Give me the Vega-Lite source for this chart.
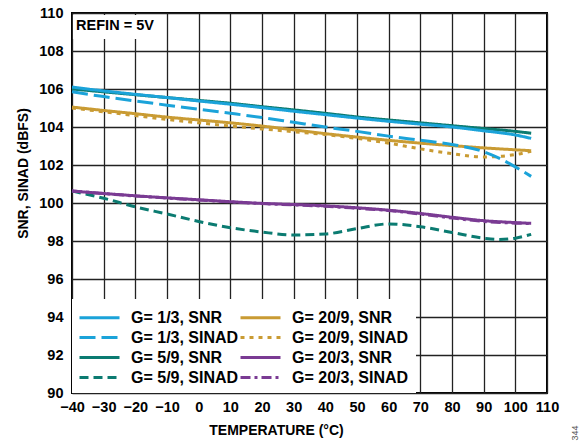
{
  "$schema": "https://vega.github.io/schema/vega-lite/v6.json",
  "width": 475,
  "height": 380,
  "autosize": {"type": "none"},
  "padding": {"left": 72, "top": 13, "right": 40, "bottom": 55},
  "background": "white",
  "config": {
    "view": {"stroke": "#000000", "strokeWidth": 2},
    "font": "Liberation Sans",
    "axis": {
      "labelFont": "Liberation Sans", "labelFontWeight": "bold", "labelFontSize": 14.5, "labelColor": "#000",
      "titleFont": "Liberation Sans", "titleFontWeight": "bold", "titleFontSize": 14, "titleColor": "#000",
      "gridColor": "#222", "gridWidth": 1.3, "gridOpacity": 1, "domain": false, "ticks": false,
      "labelOverlap": false
    }
  },
  "data": {
    "values": [
      {"series": "G= 5/9, SINAD", "t": -40, "v": 100.63}, {"series": "G= 5/9, SINAD", "t": -30, "v": 100.25}, {"series": "G= 5/9, SINAD", "t": -20, "v": 99.8}, {"series": "G= 5/9, SINAD", "t": -10, "v": 99.42}, {"series": "G= 5/9, SINAD", "t": 0, "v": 99.03}, {"series": "G= 5/9, SINAD", "t": 10, "v": 98.7}, {"series": "G= 5/9, SINAD", "t": 20, "v": 98.47}, {"series": "G= 5/9, SINAD", "t": 30, "v": 98.32}, {"series": "G= 5/9, SINAD", "t": 40, "v": 98.37}, {"series": "G= 5/9, SINAD", "t": 50, "v": 98.65}, {"series": "G= 5/9, SINAD", "t": 60, "v": 98.9}, {"series": "G= 5/9, SINAD", "t": 70, "v": 98.75}, {"series": "G= 5/9, SINAD", "t": 80, "v": 98.45}, {"series": "G= 5/9, SINAD", "t": 90, "v": 98.15}, {"series": "G= 5/9, SINAD", "t": 95, "v": 98.08}, {"series": "G= 5/9, SINAD", "t": 100, "v": 98.15}, {"series": "G= 5/9, SINAD", "t": 105, "v": 98.35},

      {"series": "G= 20/3, SNR", "t": -40, "v": 100.63}, {"series": "G= 20/3, SNR", "t": -30, "v": 100.5}, {"series": "G= 20/3, SNR", "t": -20, "v": 100.38}, {"series": "G= 20/3, SNR", "t": -10, "v": 100.27}, {"series": "G= 20/3, SNR", "t": 0, "v": 100.17}, {"series": "G= 20/3, SNR", "t": 10, "v": 100.07}, {"series": "G= 20/3, SNR", "t": 20, "v": 99.98}, {"series": "G= 20/3, SNR", "t": 30, "v": 99.92}, {"series": "G= 20/3, SNR", "t": 40, "v": 99.85}, {"series": "G= 20/3, SNR", "t": 50, "v": 99.75}, {"series": "G= 20/3, SNR", "t": 60, "v": 99.62}, {"series": "G= 20/3, SNR", "t": 70, "v": 99.45}, {"series": "G= 20/3, SNR", "t": 80, "v": 99.25}, {"series": "G= 20/3, SNR", "t": 90, "v": 99.07}, {"series": "G= 20/3, SNR", "t": 100, "v": 98.97}, {"series": "G= 20/3, SNR", "t": 105, "v": 98.93},

      {"series": "G= 20/3, SINAD", "t": -40, "v": 100.63}, {"series": "G= 20/3, SINAD", "t": -30, "v": 100.5}, {"series": "G= 20/3, SINAD", "t": -20, "v": 100.37}, {"series": "G= 20/3, SINAD", "t": -10, "v": 100.26}, {"series": "G= 20/3, SINAD", "t": 0, "v": 100.16}, {"series": "G= 20/3, SINAD", "t": 10, "v": 100.06}, {"series": "G= 20/3, SINAD", "t": 20, "v": 99.97}, {"series": "G= 20/3, SINAD", "t": 30, "v": 99.9}, {"series": "G= 20/3, SINAD", "t": 40, "v": 99.83}, {"series": "G= 20/3, SINAD", "t": 50, "v": 99.72}, {"series": "G= 20/3, SINAD", "t": 60, "v": 99.6}, {"series": "G= 20/3, SINAD", "t": 70, "v": 99.42}, {"series": "G= 20/3, SINAD", "t": 80, "v": 99.21}, {"series": "G= 20/3, SINAD", "t": 90, "v": 99.03}, {"series": "G= 20/3, SINAD", "t": 100, "v": 98.94}, {"series": "G= 20/3, SINAD", "t": 105, "v": 98.92},

      {"series": "G= 20/9, SINAD", "t": -40, "v": 105.0}, {"series": "G= 20/9, SINAD", "t": -30, "v": 104.8}, {"series": "G= 20/9, SINAD", "t": -20, "v": 104.6}, {"series": "G= 20/9, SINAD", "t": -10, "v": 104.4}, {"series": "G= 20/9, SINAD", "t": 0, "v": 104.22}, {"series": "G= 20/9, SINAD", "t": 10, "v": 104.05}, {"series": "G= 20/9, SINAD", "t": 20, "v": 103.9}, {"series": "G= 20/9, SINAD", "t": 30, "v": 103.75}, {"series": "G= 20/9, SINAD", "t": 40, "v": 103.6}, {"series": "G= 20/9, SINAD", "t": 50, "v": 103.4}, {"series": "G= 20/9, SINAD", "t": 60, "v": 103.15}, {"series": "G= 20/9, SINAD", "t": 70, "v": 102.85}, {"series": "G= 20/9, SINAD", "t": 80, "v": 102.6}, {"series": "G= 20/9, SINAD", "t": 90, "v": 102.42}, {"series": "G= 20/9, SINAD", "t": 100, "v": 102.55}, {"series": "G= 20/9, SINAD", "t": 105, "v": 102.72},

      {"series": "G= 20/9, SNR", "t": -40, "v": 105.05}, {"series": "G= 20/9, SNR", "t": -30, "v": 104.87}, {"series": "G= 20/9, SNR", "t": -20, "v": 104.7}, {"series": "G= 20/9, SNR", "t": -10, "v": 104.52}, {"series": "G= 20/9, SNR", "t": 0, "v": 104.37}, {"series": "G= 20/9, SNR", "t": 10, "v": 104.22}, {"series": "G= 20/9, SNR", "t": 20, "v": 104.05}, {"series": "G= 20/9, SNR", "t": 30, "v": 103.85}, {"series": "G= 20/9, SNR", "t": 40, "v": 103.65}, {"series": "G= 20/9, SNR", "t": 50, "v": 103.47}, {"series": "G= 20/9, SNR", "t": 60, "v": 103.3}, {"series": "G= 20/9, SNR", "t": 70, "v": 103.15}, {"series": "G= 20/9, SNR", "t": 80, "v": 103.02}, {"series": "G= 20/9, SNR", "t": 90, "v": 102.9}, {"series": "G= 20/9, SNR", "t": 100, "v": 102.8}, {"series": "G= 20/9, SNR", "t": 105, "v": 102.75},

      {"series": "G= 5/9, SNR", "t": -40, "v": 106.0}, {"series": "G= 5/9, SNR", "t": -30, "v": 105.85}, {"series": "G= 5/9, SNR", "t": -20, "v": 105.7}, {"series": "G= 5/9, SNR", "t": -10, "v": 105.55}, {"series": "G= 5/9, SNR", "t": 0, "v": 105.4}, {"series": "G= 5/9, SNR", "t": 10, "v": 105.25}, {"series": "G= 5/9, SNR", "t": 20, "v": 105.07}, {"series": "G= 5/9, SNR", "t": 30, "v": 104.9}, {"series": "G= 5/9, SNR", "t": 40, "v": 104.72}, {"series": "G= 5/9, SNR", "t": 50, "v": 104.53}, {"series": "G= 5/9, SNR", "t": 60, "v": 104.37}, {"series": "G= 5/9, SNR", "t": 70, "v": 104.22}, {"series": "G= 5/9, SNR", "t": 80, "v": 104.07}, {"series": "G= 5/9, SNR", "t": 90, "v": 103.92}, {"series": "G= 5/9, SNR", "t": 100, "v": 103.77}, {"series": "G= 5/9, SNR", "t": 105, "v": 103.67},

      {"series": "G= 1/3, SINAD", "t": -40, "v": 105.85}, {"series": "G= 1/3, SINAD", "t": -30, "v": 105.6}, {"series": "G= 1/3, SINAD", "t": -20, "v": 105.37}, {"series": "G= 1/3, SINAD", "t": -10, "v": 105.15}, {"series": "G= 1/3, SINAD", "t": 0, "v": 104.93}, {"series": "G= 1/3, SINAD", "t": 10, "v": 104.72}, {"series": "G= 1/3, SINAD", "t": 20, "v": 104.5}, {"series": "G= 1/3, SINAD", "t": 30, "v": 104.25}, {"series": "G= 1/3, SINAD", "t": 40, "v": 104.0}, {"series": "G= 1/3, SINAD", "t": 50, "v": 103.77}, {"series": "G= 1/3, SINAD", "t": 60, "v": 103.52}, {"series": "G= 1/3, SINAD", "t": 70, "v": 103.3}, {"series": "G= 1/3, SINAD", "t": 80, "v": 103.08}, {"series": "G= 1/3, SINAD", "t": 90, "v": 102.7}, {"series": "G= 1/3, SINAD", "t": 95, "v": 102.35}, {"series": "G= 1/3, SINAD", "t": 100, "v": 101.9}, {"series": "G= 1/3, SINAD", "t": 105, "v": 101.4},

      {"series": "G= 1/3, SNR", "t": -40, "v": 106.1}, {"series": "G= 1/3, SNR", "t": -30, "v": 105.9}, {"series": "G= 1/3, SNR", "t": -20, "v": 105.72}, {"series": "G= 1/3, SNR", "t": -10, "v": 105.55}, {"series": "G= 1/3, SNR", "t": 0, "v": 105.37}, {"series": "G= 1/3, SNR", "t": 10, "v": 105.2}, {"series": "G= 1/3, SNR", "t": 20, "v": 105.02}, {"series": "G= 1/3, SNR", "t": 30, "v": 104.83}, {"series": "G= 1/3, SNR", "t": 40, "v": 104.65}, {"series": "G= 1/3, SNR", "t": 50, "v": 104.47}, {"series": "G= 1/3, SNR", "t": 60, "v": 104.3}, {"series": "G= 1/3, SNR", "t": 70, "v": 104.15}, {"series": "G= 1/3, SNR", "t": 80, "v": 104.0}, {"series": "G= 1/3, SNR", "t": 90, "v": 103.8}, {"series": "G= 1/3, SNR", "t": 100, "v": 103.58}, {"series": "G= 1/3, SNR", "t": 105, "v": 103.4}
    ]
  },
  "layer": [
    {
      "mark": {"type": "line", "strokeWidth": 3, "interpolate": "monotone"},
      "encoding": {
        "x": {
          "field": "t", "type": "quantitative",
          "scale": {"domain": [-40, 110], "nice": false},
          "axis": {"values": [-40, -30, -20, -10, 0, 10, 20, 30, 40, 50, 60, 70, 80, 90, 100, 110], "tickCount": 30, "format": "d", "labelExpr": "replace(datum.label, '-', '\u2013')", "labelPadding": 7, "title": "TEMPERATURE (°C)", "titlePadding": 10, "titleX": 204, "labelFlush": false}
        },
        "y": {
          "field": "v", "type": "quantitative",
          "scale": {"domain": [90, 110], "nice": false, "zero": false},
          "axis": {"values": [90, 92, 94, 96, 98, 100, 102, 104, 106, 108, 110], "tickCount": 30, "format": "d", "labelPadding": 9, "title": "SNR, SINAD (dBFS)", "titlePadding": 8, "titleY": 160}
        },
        "color": {
          "field": "series", "type": "nominal",
          "scale": {
            "domain": ["G= 1/3, SNR", "G= 1/3, SINAD", "G= 5/9, SNR", "G= 5/9, SINAD", "G= 20/9, SNR", "G= 20/9, SINAD", "G= 20/3, SNR", "G= 20/3, SINAD"],
            "range": ["#1BA3D9", "#1BA3D9", "#0B7B71", "#0B7B71", "#C99B33", "#C99B33", "#7A3B93", "#7A3B93"]
          },
          "legend": {
            "title": null, "orient": "bottom-left", "offset": 0, "columns": 2, "padding": 7,
            "fillColor": "white", "symbolType": "M-2,0H2", "symbolSize": 400, "symbolStrokeWidth": 3, "symbolOffset": 9,
            "labelFont": "Liberation Sans", "labelFontWeight": "bold", "labelFontSize": 16, "labelColor": "#000",
            "labelOffset": 20, "rowPadding": 0, "columnPadding": -5, "labelLimit": 200
          }
        },
        "strokeDash": {
          "field": "series", "type": "nominal",
          "scale": {
            "domain": ["G= 1/3, SNR", "G= 1/3, SINAD", "G= 5/9, SNR", "G= 5/9, SINAD", "G= 20/9, SNR", "G= 20/9, SINAD", "G= 20/3, SNR", "G= 20/3, SINAD"],
            "range": [[1, 0], [16, 6], [1, 0], [9, 5], [1, 0], [4, 5], [1, 0], [10, 4, 3, 4]]
          }
        }
      }
    },
    {
      "data": {"values": [{}]},
      "mark": {"type": "rect", "fill": "white", "stroke": null},
      "encoding": {
        "x": {"datum": -39.7},
        "x2": {"datum": -11.5},
        "y": {"datum": 108.63},
        "y2": {"datum": 109.9}
      }
    },
    {
      "data": {"values": [{}]},
      "mark": {"type": "text", "align": "left", "baseline": "middle", "font": "Liberation Sans", "fontWeight": "bold", "fontSize": 14.5, "color": "#000"},
      "encoding": {
        "x": {"datum": -38.7},
        "y": {"datum": 109.3},
        "text": {"value": "REFIN = 5V"}
      }
    },
    {
      "data": {"values": [{}]},
      "mark": {"type": "text", "align": "center", "baseline": "middle", "angle": 270, "font": "Liberation Sans", "fontSize": 9, "color": "#555", "clip": false},
      "encoding": {
        "x": {"datum": 118.8},
        "y": {"datum": 87.9},
        "text": {"value": "344"}
      }
    }
  ]
}
